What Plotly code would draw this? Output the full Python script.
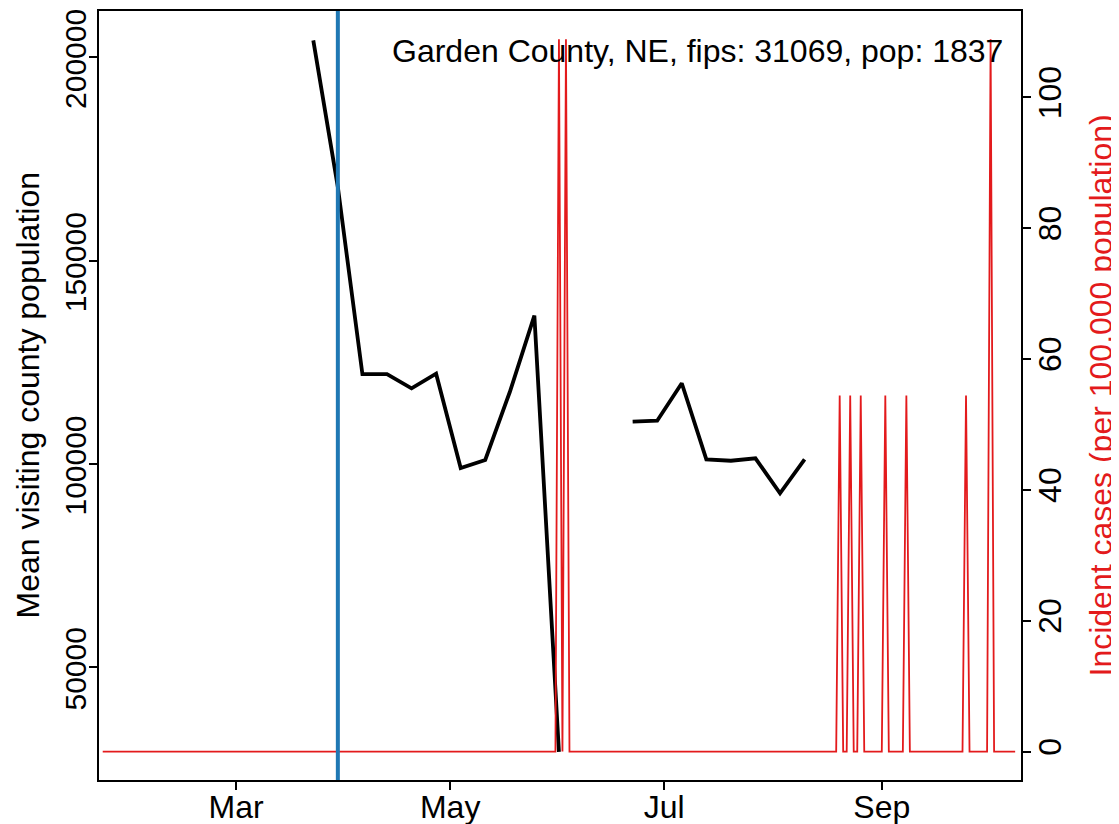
import pandas as pd
import plotly.graph_objects as go

# ---- data ----
week_dates = ["2020-03-23", "2020-03-30", "2020-04-06", "2020-04-13", "2020-04-20",
              "2020-04-27", "2020-05-04", "2020-05-11", "2020-05-18", "2020-05-25",
              "2020-06-01", "2020-06-08", "2020-06-15", "2020-06-22", "2020-06-29",
              "2020-07-06", "2020-07-13", "2020-07-20", "2020-07-27", "2020-08-03",
              "2020-08-10"]
visiting_pop = [204200, 168100, 122100, 122100, 118600,
                122200, 99000, 101000, 117700, 136500,
                29200, None, None, 110400, 110650,
                119850, 101150, 100800, 101400, 92800,
                101150]

case_start = "2020-01-23"
case_end = "2020-10-09"
spike_dates = ["2020-06-01", "2020-06-03", "2020-08-20", "2020-08-23", "2020-08-26",
               "2020-09-02", "2020-09-08", "2020-09-25", "2020-10-02"]
spike_values = [108.87, 108.87, 54.44, 54.44, 54.44,
                54.44, 54.44, 54.44, 108.87]

intervention_date = "2020-03-30"

month_ticks = ["2020-03-01", "2020-05-01", "2020-07-01", "2020-09-01"]
month_labels = ["Mar", "May", "Jul", "Sep"]
left_ticks = [50000, 100000, 150000, 200000]
right_ticks = [0, 20, 40, 60, 80, 100]

title_text = "Garden County, NE, fips: 31069, pop: 1837"

# daily incident series: zero baseline with the read spikes
days = pd.date_range(case_start, case_end, freq="D")
incident = pd.Series(0.0, index=days)
for d, v in zip(spike_dates, spike_values):
    incident[pd.Timestamp(d)] = v

RED = "#E31A1C"
BLUE = "#1F78B4"
FONT = "Liberation Sans, Arial, sans-serif"
FS = 32

fig = go.Figure()
fig.add_trace(go.Scatter(x=incident.index, y=incident.values, mode="lines",
                         line=dict(color=RED, width=1.8), yaxis="y2",
                         hoverinfo="skip"))
fig.add_trace(go.Scatter(x=pd.to_datetime(week_dates), y=visiting_pop, mode="lines",
                         line=dict(color="black", width=3.8), connectgaps=False,
                         yaxis="y"))

fig.add_shape(type="line", xref="x", yref="paper", x0=intervention_date,
              x1=intervention_date, y0=0, y1=1,
              line=dict(color=BLUE, width=4), layer="above")

fig.add_annotation(text=title_text, xref="paper", yref="paper", x=1, y=1,
                   xanchor="right", yanchor="middle", xshift=-16, yshift=-40,
                   showarrow=False, font=dict(family=FONT, size=FS, color="black"))
fig.add_annotation(text="Mean visiting county population", xref="paper", yref="paper",
                   x=0, y=0.5, xanchor="center", yanchor="middle", xshift=-72,
                   textangle=-90, showarrow=False,
                   font=dict(family=FONT, size=FS, color="black"))
fig.add_annotation(text="Incident cases (per 100,000 population)", xref="paper",
                   yref="paper", x=1, y=0.5, xanchor="center", yanchor="middle",
                   xshift=79, textangle=-90, showarrow=False,
                   font=dict(family=FONT, size=FS, color=RED))

axis_common = dict(showgrid=False, zeroline=False, showline=True, linecolor="black",
                   linewidth=2, ticks="outside", ticklen=8, tickwidth=2,
                   tickcolor="black", automargin=False, ticklabeloverflow="allow")

# the page body adds an 8 px offset, so the figure is 8 px smaller and margins shifted
fig.update_layout(
    width=1111, height=816,
    margin=dict(l=91, r=98, t=3, b=44, autoexpand=False),
    paper_bgcolor="white", plot_bgcolor="white",
    showlegend=False,
    xaxis=dict(range=["2020-01-21 22:30", "2020-10-10 16:00"], type="date",
               tickvals=month_ticks, ticktext=month_labels, mirror=True,
               ticklabelstandoff=-10,
               tickfont=dict(family=FONT, size=FS, color="black"), **axis_common),
    yaxis=dict(range=[22280, 211410], tickvals=left_ticks, tickformat="d",
               tickangle=-90, mirror=True, ticklabelstandoff=-9,
               ticklabelshift=6,
               tickfont=dict(family=FONT, size=30, color="black"), **axis_common),
    yaxis2=dict(range=[-4.35, 113.2], tickvals=right_ticks, tickangle=-90,
                overlaying="y", side="right", ticklabelstandoff=-8,
                tickfont=dict(family=FONT, size=FS, color="black"), **axis_common),
)

fig.write_html("out.html")
